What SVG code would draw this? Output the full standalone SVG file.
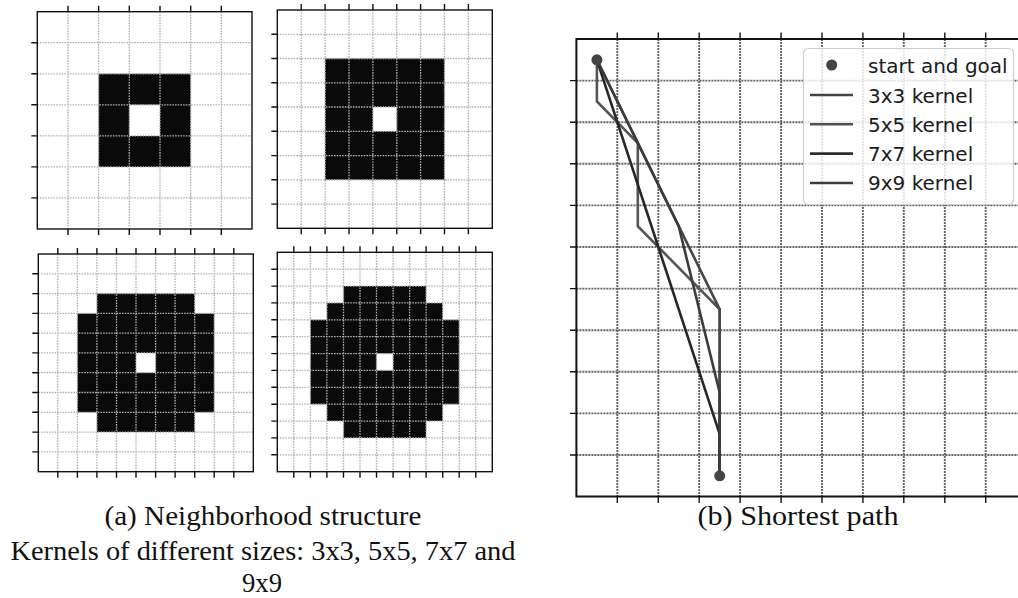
<svg xmlns="http://www.w3.org/2000/svg" width="1018" height="598" viewBox="0 0 1018 598">
<style>
.bg{fill:#fff}
.blk{fill:#0a0a0a;fill-rule:evenodd}
.g1{fill:none;stroke:#b0b0b0;stroke-width:1.3;stroke-dasharray:1.6 1.1}
.fr{fill:none;stroke:#111;stroke-width:1.4}
.tk{fill:none;stroke:#111;stroke-width:1.4}
.g2{fill:none;stroke:#626262;stroke-width:1.9;stroke-dasharray:2 1}
.ax{fill:none;stroke:#111;stroke-width:2}
.pth{fill:none;stroke-width:2.6;stroke-linejoin:miter}
.dot{fill:#444}
.leg{font-family:"DejaVu Sans",sans-serif;font-size:20px;fill:#1a1a1a}
.cap{font-family:"Liberation Serif",serif;font-size:27px;fill:#111}
</style>
<rect x="0" y="0" width="1018" height="598" fill="#fff"/>

<g id="panel-3x3">
<rect class="bg" x="37.3" y="11.7" width="214.7" height="217.3"/>
<path class="blk" d="M98.6,73.8H190.7V166.9H98.6Z M129.3,104.8V135.9H160V104.8Z"/>
<path class="g1" d="M68,11.7V229M98.6,11.7V229M129.3,11.7V229M160,11.7V229M190.7,11.7V229M221.3,11.7V229M37.3,42.7H252M37.3,73.8H252M37.3,104.8H252M37.3,135.9H252M37.3,166.9H252M37.3,197.9H252"/>
<rect class="fr" x="37.3" y="11.7" width="214.7" height="217.3"/>
<path class="tk" d="M68,5.7V11.7M98.6,5.7V11.7M129.3,5.7V11.7M160,5.7V11.7M190.7,5.7V11.7M221.3,5.7V11.7M68,229V235M98.6,229V235M129.3,229V235M160,229V235M190.7,229V235M221.3,229V235M31.3,42.7H37.3M31.3,73.8H37.3M31.3,104.8H37.3M31.3,135.9H37.3M31.3,166.9H37.3M31.3,197.9H37.3"/>
</g>

<g id="panel-5x5">
<rect class="bg" x="277.3" y="10" width="215" height="218.3"/>
<path class="blk" d="M325.1,58.5H444.5V179.8H325.1Z M372.9,107V131.3H396.8V107Z"/>
<path class="g1" d="M301.2,10V228.3M325.1,10V228.3M349,10V228.3M372.9,10V228.3M396.8,10V228.3M420.6,10V228.3M444.5,10V228.3M468.4,10V228.3M277.3,34.3H492.3M277.3,58.5H492.3M277.3,82.8H492.3M277.3,107H492.3M277.3,131.3H492.3M277.3,155.6H492.3M277.3,179.8H492.3M277.3,204.1H492.3"/>
<rect class="fr" x="277.3" y="10" width="215" height="218.3"/>
<path class="tk" d="M301.2,4V10M325.1,4V10M349,4V10M372.9,4V10M396.8,4V10M420.6,4V10M444.5,4V10M468.4,4V10M301.2,228.3V234.3M325.1,228.3V234.3M349,228.3V234.3M372.9,228.3V234.3M396.8,228.3V234.3M420.6,228.3V234.3M444.5,228.3V234.3M468.4,228.3V234.3M271.3,34.3H277.3M271.3,58.5H277.3M271.3,82.8H277.3M271.3,107H277.3M271.3,131.3H277.3M271.3,155.6H277.3M271.3,179.8H277.3M271.3,204.1H277.3"/>
</g>

<g id="panel-7x7">
<rect class="bg" x="38.3" y="254" width="215" height="217.7"/>
<path class="blk" d="M96.9,293.6H194.7V313.4H214.2V412.3H194.7V432.1H96.9V412.3H77.4V313.4H96.9Z M136,352.9V372.7H155.6V352.9Z"/>
<path class="g1" d="M57.8,254V471.7M77.4,254V471.7M96.9,254V471.7M116.5,254V471.7M136,254V471.7M155.6,254V471.7M175.1,254V471.7M194.7,254V471.7M214.2,254V471.7M233.8,254V471.7M38.3,273.8H253.3M38.3,293.6H253.3M38.3,313.4H253.3M38.3,333.2H253.3M38.3,352.9H253.3M38.3,372.7H253.3M38.3,392.5H253.3M38.3,412.3H253.3M38.3,432.1H253.3M38.3,451.9H253.3"/>
<rect class="fr" x="38.3" y="254" width="215" height="217.7"/>
<path class="tk" d="M57.8,248V254M77.4,248V254M96.9,248V254M116.5,248V254M136,248V254M155.6,248V254M175.1,248V254M194.7,248V254M214.2,248V254M233.8,248V254M57.8,471.7V477.7M77.4,471.7V477.7M96.9,471.7V477.7M116.5,471.7V477.7M136,471.7V477.7M155.6,471.7V477.7M175.1,471.7V477.7M194.7,471.7V477.7M214.2,471.7V477.7M233.8,471.7V477.7M32.3,273.8H38.3M32.3,293.6H38.3M32.3,313.4H38.3M32.3,333.2H38.3M32.3,352.9H38.3M32.3,372.7H38.3M32.3,392.5H38.3M32.3,412.3H38.3M32.3,432.1H38.3M32.3,451.9H38.3"/>
</g>

<g id="panel-9x9">
<rect class="bg" x="277.3" y="252.3" width="215" height="219.4"/>
<path class="blk" d="M343.5,286.1H426.1V302.9H442.7V319.8H459.2V404.2H442.7V421.1H426.1V437.9H343.5V421.1H326.9V404.2H310.4V319.8H326.9V302.9H343.5Z M376.5,353.6V370.4H393.1V353.6Z"/>
<path class="g1" d="M293.8,252.3V471.7M310.4,252.3V471.7M326.9,252.3V471.7M343.5,252.3V471.7M360,252.3V471.7M376.5,252.3V471.7M393.1,252.3V471.7M409.6,252.3V471.7M426.1,252.3V471.7M442.7,252.3V471.7M459.2,252.3V471.7M475.8,252.3V471.7M277.3,269.2H492.3M277.3,286.1H492.3M277.3,302.9H492.3M277.3,319.8H492.3M277.3,336.7H492.3M277.3,353.6H492.3M277.3,370.4H492.3M277.3,387.3H492.3M277.3,404.2H492.3M277.3,421.1H492.3M277.3,437.9H492.3M277.3,454.8H492.3"/>
<rect class="fr" x="277.3" y="252.3" width="215" height="219.4"/>
<path class="tk" d="M293.8,246.3V252.3M310.4,246.3V252.3M326.9,246.3V252.3M343.5,246.3V252.3M360,246.3V252.3M376.5,246.3V252.3M393.1,246.3V252.3M409.6,246.3V252.3M426.1,246.3V252.3M442.7,246.3V252.3M459.2,246.3V252.3M475.8,246.3V252.3M293.8,471.7V477.7M310.4,471.7V477.7M326.9,471.7V477.7M343.5,471.7V477.7M360,471.7V477.7M376.5,471.7V477.7M393.1,471.7V477.7M409.6,471.7V477.7M426.1,471.7V477.7M442.7,471.7V477.7M459.2,471.7V477.7M475.8,471.7V477.7M271.3,269.2H277.3M271.3,286.1H277.3M271.3,302.9H277.3M271.3,319.8H277.3M271.3,336.7H277.3M271.3,353.6H277.3M271.3,370.4H277.3M271.3,387.3H277.3M271.3,404.2H277.3M271.3,421.1H277.3M271.3,437.9H277.3M271.3,454.8H277.3"/>
</g>

<g id="shortest-path-plot">
<path class="g2" d="M617.3,39V496.6M658.3,39V496.6M699.2,39V496.6M740.1,39V496.6M781.1,39V496.6M822,39V496.6M862.9,39V496.6M903.8,39V496.6M944.8,39V496.6M985.7,39V496.6M576.4,80.6H1018M576.4,122.2H1018M576.4,163.8H1018M576.4,205.4H1018M576.4,247H1018M576.4,288.6H1018M576.4,330.2H1018M576.4,371.8H1018M576.4,413.4H1018M576.4,455H1018"/>
<path class="ax" d="M576.4,39V496.6M575.4,39H1018M575.4,496.6H1018"/>
<path class="tk" d="M617.3,32.5V39M658.3,32.5V39M699.2,32.5V39M740.1,32.5V39M781.1,32.5V39M822,32.5V39M862.9,32.5V39M903.8,32.5V39M944.8,32.5V39M985.7,32.5V39M617.3,496.6V503M658.3,496.6V503M699.2,496.6V503M740.1,496.6V503M781.1,496.6V503M822,496.6V503M862.9,496.6V503M903.8,496.6V503M944.8,496.6V503M985.7,496.6V503M570,80.6H576.4M570,122.2H576.4M570,163.8H576.4M570,205.4H576.4M570,247H576.4M570,288.6H576.4M570,330.2H576.4M570,371.8H576.4M570,413.4H576.4M570,455H576.4"/>
</g>

<g id="connectors">
<path id="path-3x3" class="pth" stroke="#555" d="M596.9,59.8L596.9,101.4L637.8,143L637.8,226.2L719.7,309.4L719.7,475.8"/>
<path id="path-5x5" class="pth" stroke="#474747" d="M596.9,59.8L719.7,309.4L719.7,475.8"/>
<path id="path-7x7" class="pth" stroke="#262626" d="M596.9,59.8L719.7,434.2L719.7,475.8"/>
<path id="path-9x9" class="pth" stroke="#3c3c3c" d="M596.9,59.8L678.7,226.2L719.7,392.6L719.7,475.8"/>
</g>

<g id="start-goal">
<circle class="dot" cx="596.9" cy="59.8" r="5.5"/>
<circle class="dot" cx="719.7" cy="475.8" r="5.5"/>
</g>

<g id="legend">
<rect x="803.5" y="48.5" width="210" height="156" rx="5" fill="#fff" fill-opacity="0.82" stroke="#cfcfcf" stroke-width="1.2"/>
<circle class="dot" cx="831.7" cy="65" r="5.5"/>
<path class="pth" stroke="#444" d="M810,95H853"/>
<path class="pth" stroke="#505050" d="M810,124.3H853"/>
<path class="pth" stroke="#2e2e2e" d="M810,153.6H853"/>
<path class="pth" stroke="#3c3c3c" d="M810,183H853"/>
<text class="leg" x="868" y="72.7">start and goal</text>
<text class="leg" x="868" y="102.5">3x3 kernel</text>
<text class="leg" x="868" y="131.8">5x5 kernel</text>
<text class="leg" x="868" y="161">7x7 kernel</text>
<text class="leg" x="868" y="190.3">9x9 kernel</text>
</g>

<g id="captions">
<text class="cap" x="263" y="524.5" text-anchor="middle" textLength="317" lengthAdjust="spacingAndGlyphs">(a) Neighborhood structure</text>
<text class="cap" x="263" y="559.5" text-anchor="middle" textLength="505" lengthAdjust="spacingAndGlyphs">Kernels of different sizes: 3x3, 5x5, 7x7 and</text>
<text class="cap" x="262" y="591.5" text-anchor="middle" textLength="40" lengthAdjust="spacingAndGlyphs">9x9</text>
<text class="cap" x="798" y="524.5" text-anchor="middle" textLength="201" lengthAdjust="spacingAndGlyphs">(b) Shortest path</text>
</g>
</svg>
